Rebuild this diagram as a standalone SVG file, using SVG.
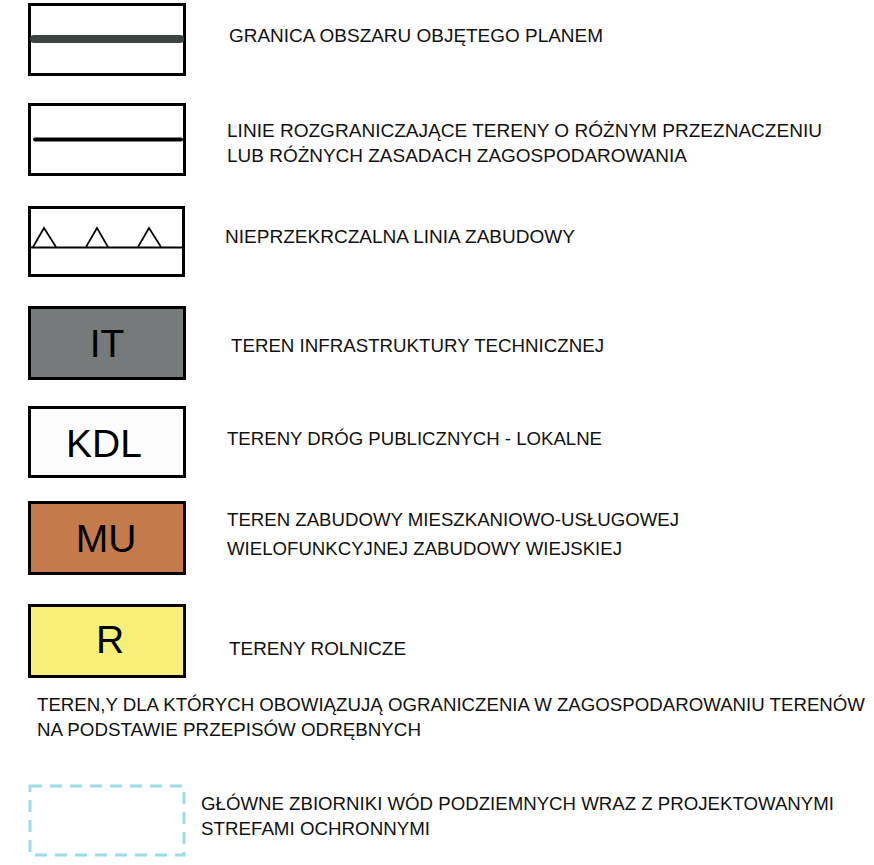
<svg xmlns="http://www.w3.org/2000/svg" width="874" height="865" viewBox="0 0 874 865">
<style>
.box{stroke:#000;stroke-width:3;}
.lbl{font-family:"Liberation Sans",Arial,sans-serif;font-size:19px;fill:#111;}
.code{font-family:"Liberation Sans",Arial,sans-serif;font-size:39px;fill:#000;text-anchor:middle;}
</style>
<rect width="874" height="865" fill="#fff"/>
<g id="granica">
<rect class="box" x="29.5" y="4.5" width="155" height="70" fill="#fff"/>
<line x1="34" y1="39" x2="180" y2="39" stroke="#3d4444" stroke-width="8" stroke-linecap="round"/>
<text class="lbl" x="229" y="42" textLength="374" lengthAdjust="spacingAndGlyphs">GRANICA OBSZARU OBJĘTEGO PLANEM</text>
</g>
<g id="linie">
<rect class="box" x="29.5" y="104.5" width="155" height="70" fill="#fff"/>
<line x1="35" y1="139.5" x2="181" y2="139.5" stroke="#000" stroke-width="4" stroke-linecap="round"/>
<text class="lbl" x="227" y="137" textLength="595" lengthAdjust="spacingAndGlyphs">LINIE ROZGRANICZAJĄCE TERENY O RÓŻNYM PRZEZNACZENIU</text>
<text class="lbl" x="227" y="162" textLength="460" lengthAdjust="spacingAndGlyphs">LUB RÓŻNYCH ZASADACH ZAGOSPODAROWANIA</text>
</g>
<g id="linia-zabudowy">
<rect class="box" x="29.5" y="207.5" width="154" height="68" fill="#fff"/>
<line x1="31" y1="247.5" x2="182" y2="247.5" stroke="#000" stroke-width="2"/>
<path d="M33,247 L44,228 L56,247 M86,247 L97,228 L108,247 M138,247 L149,228 L161,247" fill="none" stroke="#000" stroke-width="1.7"/>
<text class="lbl" x="225" y="243" textLength="350" lengthAdjust="spacingAndGlyphs">NIEPRZEKRCZALNA LINIA ZABUDOWY</text>
</g>
<g id="it">
<rect class="box" x="29.5" y="307.5" width="155" height="71" fill="#767a7a"/>
<text class="code" x="107" y="357">IT</text>
<text class="lbl" x="231" y="352" textLength="373" lengthAdjust="spacingAndGlyphs">TEREN INFRASTRUKTURY TECHNICZNEJ</text>
</g>
<g id="kdl">
<rect class="box" x="29.5" y="407.5" width="155" height="69" fill="#fdfdfd"/>
<text class="code" x="104" y="457">KDL</text>
<text class="lbl" x="227" y="445" textLength="375" lengthAdjust="spacingAndGlyphs">TERENY DRÓG PUBLICZNYCH - LOKALNE</text>
</g>
<g id="mu">
<rect class="box" x="29.5" y="502.5" width="155" height="71" fill="#c57a4c"/>
<text class="code" x="106" y="552">MU</text>
<text class="lbl" x="227" y="526" textLength="452" lengthAdjust="spacingAndGlyphs">TEREN ZABUDOWY MIESZKANIOWO-USŁUGOWEJ</text>
<text class="lbl" x="227" y="555" textLength="395" lengthAdjust="spacingAndGlyphs">WIELOFUNKCYJNEJ ZABUDOWY WIEJSKIEJ</text>
</g>
<g id="r">
<rect class="box" x="29.5" y="605.5" width="155" height="71" fill="#f7ef78"/>
<text class="code" x="110" y="653">R</text>
<text class="lbl" x="229" y="655" textLength="177" lengthAdjust="spacingAndGlyphs">TERENY ROLNICZE</text>
</g>
<g id="ograniczenia">
<text class="lbl" x="37" y="711" style="font-size:18px" textLength="828" lengthAdjust="spacingAndGlyphs">TEREN,Y DLA KTÓRYCH OBOWIĄZUJĄ OGRANICZENIA W ZAGOSPODAROWANIU TERENÓW</text>
<text class="lbl" x="37" y="736" textLength="384" lengthAdjust="spacingAndGlyphs">NA PODSTAWIE PRZEPISÓW ODRĘBNYCH</text>
</g>
<g id="gzwp">
<rect x="30" y="786" width="154" height="69" fill="none" stroke="#99dde8" stroke-width="3" stroke-dasharray="12,8"/>
<text class="lbl" x="201" y="810" textLength="633" lengthAdjust="spacingAndGlyphs">GŁÓWNE ZBIORNIKI WÓD PODZIEMNYCH WRAZ Z PROJEKTOWANYMI</text>
<text class="lbl" x="201" y="835" textLength="229" lengthAdjust="spacingAndGlyphs">STREFAMI OCHRONNYMI</text>
</g>
<g id="connectors"/>
</svg>
